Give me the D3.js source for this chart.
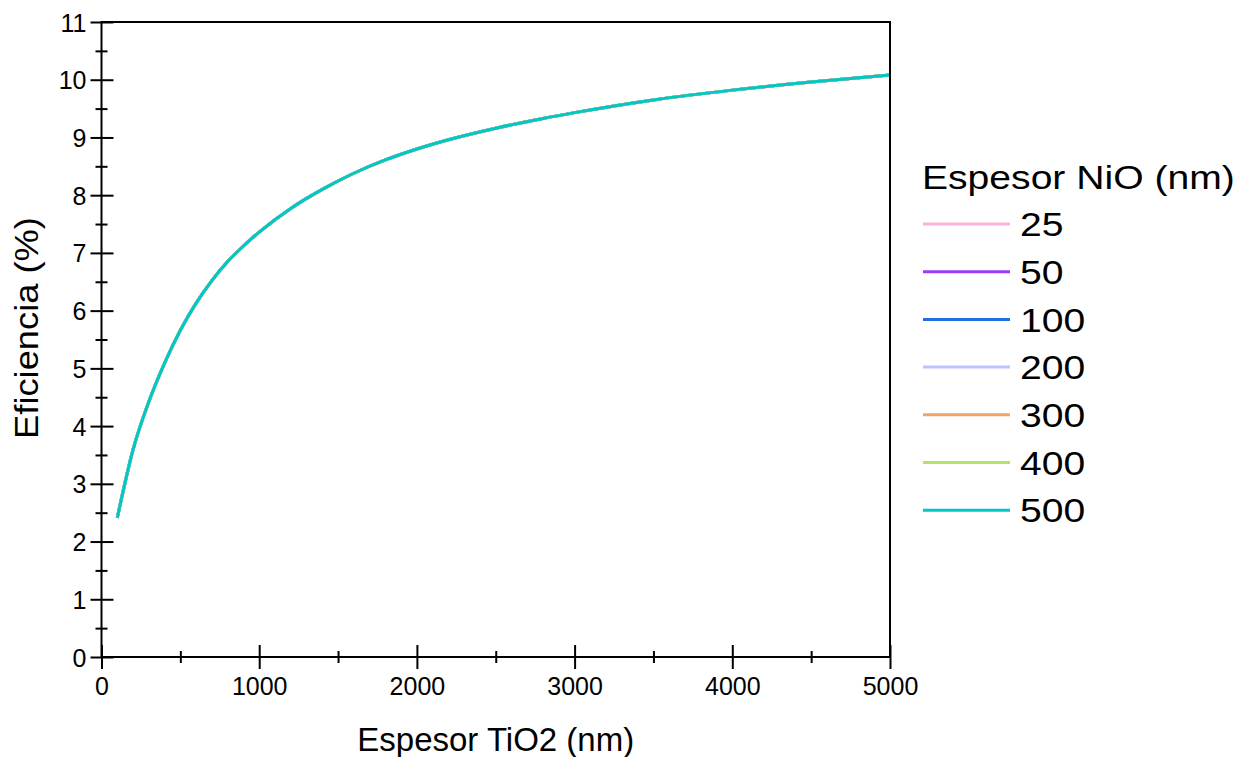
<!DOCTYPE html>
<html>
<head>
<meta charset="utf-8">
<script src="https://cdn.jsdelivr.net/npm/d3@7"></script>
<style>
  body { margin: 0; background: #fff; }
  text { font-family: "Liberation Sans", Arial, sans-serif; fill: #000; }
</style>
</head>
<body>
<div id="viz"></div>
<script>
// TiO2 thickness (nm) and efficiency (%)
var tio2 = [100, 200, 300, 400, 500, 600, 700, 800, 900, 1000, 1200, 1400, 1600, 1800, 2000,
            2200, 2500, 2800, 3000, 3500, 4000, 4500, 5000];
var eff = [2.41, 3.59, 4.42, 5.09, 5.66, 6.13, 6.52, 6.85, 7.12, 7.36, 7.77, 8.10, 8.38, 8.61, 8.80,
           8.96, 9.16, 9.33, 9.43, 9.65, 9.82, 9.96, 10.08];
// NiO thickness series (all curves lie on top of each other)
var nio = [25, 50, 100, 200, 300, 400, 500];
var nioColors = ['#ffb0dc', '#9b3cf5', '#2070e0', '#bcc4ff', '#f0a46a', '#b4e36a', '#00c8c8'];

var xTicks = [0, 1000, 2000, 3000, 4000, 5000],
    xMinor = [500, 1500, 2500, 3500, 4500],
    yTicks = d3.range(0, 12),
    yMinor = d3.range(0.5, 11, 1);

var width = 1248, height = 757,
    mLeft = 101.5, mRight = 890, mTop = 22, mBottom = 657;

var svg = d3.select('#viz').append('svg')
  .attr('width', width)
  .attr('height', height);

var xScale = d3.scaleLinear().domain([0, 5000]).range([mLeft, mRight]);
var yScale = d3.scaleLinear().domain([0, 11]).range([mBottom, mTop]);

// curves, 500 drawn last
var line = d3.line()
  .curve(d3.curveMonotoneX)
  .x(function(d) { return xScale(d[0]); })
  .y(function(d) { return yScale(d[1]); });

var pts = tio2.map(function(t, i) { return [t, eff[i]]; });

svg.selectAll('path.curve').data(nio)
  .enter().append('path')
    .attr('class', 'curve')
    .attr('d', function() { return line(pts); })
    .attr('fill', 'none')
    .attr('stroke', function(d, i) { return nioColors[i]; })
    .attr('stroke-width', 3);

// frame
svg.append('rect')
  .attr('x', mLeft).attr('y', mTop)
  .attr('width', mRight - mLeft).attr('height', mBottom - mTop)
  .attr('fill', 'none').attr('stroke', '#000').attr('stroke-width', 2);

// y axis
var yAxis = svg.append('g')
  .attr('transform', 'translate(' + mLeft + ',0)')
  .call(d3.axisLeft(yScale).tickValues(yTicks).tickSize(11).tickPadding(4));
yAxis.selectAll('.tick line').attr('x1', 12).attr('stroke-width', 2);
yAxis.select('.domain').remove();
yAxis.selectAll('text').style('font-size', '25px').attr('dy', '0.36em');

var yAxisMinor = svg.append('g')
  .attr('transform', 'translate(' + mLeft + ',0)')
  .call(d3.axisLeft(yScale).tickValues(yMinor).tickSize(6).tickFormat(''));
yAxisMinor.selectAll('.tick line').attr('x1', 6).attr('stroke-width', 2);
yAxisMinor.select('.domain').remove();

// x axis
var xAxis = svg.append('g')
  .attr('transform', 'translate(0,' + mBottom + ')')
  .call(d3.axisBottom(xScale).tickValues(xTicks).tickSize(12).tickPadding(8)
    .tickFormat(d3.format('d')));
xAxis.selectAll('.tick line').attr('y1', -12).attr('stroke-width', 2);
xAxis.select('.domain').remove();
xAxis.selectAll('text').style('font-size', '25px');

var xAxisMinor = svg.append('g')
  .attr('transform', 'translate(0,' + mBottom + ')')
  .call(d3.axisBottom(xScale).tickValues(xMinor).tickSize(6).tickFormat(''));
xAxisMinor.selectAll('.tick line').attr('y1', -6).attr('stroke-width', 2);
xAxisMinor.select('.domain').remove();

// axis titles
svg.append('text')
  .attr('x', (mLeft + mRight) / 2).attr('y', 751)
  .attr('text-anchor', 'middle')
  .style('font-size', '33px')
  .text('Espesor TiO2 (nm)');

svg.append('text')
  .attr('transform', 'translate(38,328) rotate(-90) scale(1.1,1)')
  .attr('text-anchor', 'middle')
  .style('font-size', '33px')
  .text('Eficiencia (%)');

// legend
var legend = svg.append('g').attr('transform', 'translate(922,0)');
legend.append('text')
  .attr('transform', 'translate(0,189) scale(1.15,1)')
  .style('font-size', '34px')
  .text('Espesor NiO (nm)');

var item = legend.selectAll('g.item').data(nio)
  .enter().append('g')
    .attr('class', 'item')
    .attr('transform', function(d, i) { return 'translate(0,' + (224 + i * 47.7) + ')'; });
item.append('line')
  .attr('x1', 1).attr('x2', 88)
  .attr('stroke', function(d, i) { return nioColors[i]; })
  .attr('stroke-width', 3);
item.append('text')
  .attr('transform', 'translate(98,0) scale(1.15,1)')
  .attr('dy', '0.36em')
  .style('font-size', '34px')
  .text(function(d) { return d; });
</script>
</body>
</html>
